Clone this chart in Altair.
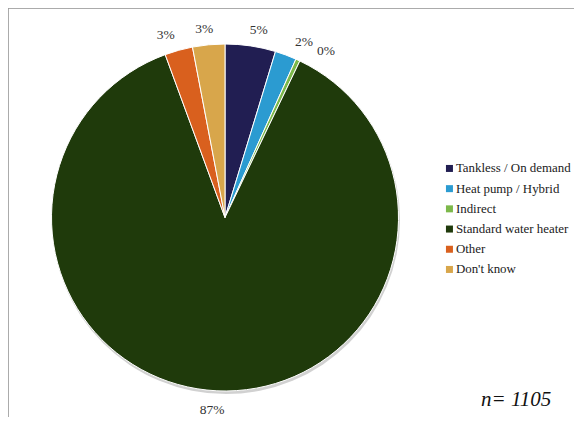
import altair as alt
import pandas as pd
import math

categories = ["Tankless / On demand", "Heat pump / Hybrid", "Indirect",
              "Standard water heater", "Other", "Don't know"]
values = [4.7, 2.0, 0.4, 87.3, 2.6, 3.0]
labels = ["5%", "2%", "0%", "87%", "3%", "3%"]
colors = ["#211e52", "#2b9bd1", "#7cb84a", "#1f3a0b", "#d9601e", "#d8a64b"]
n_text = "n= 1105"

df = pd.DataFrame({"cat": categories, "val": values, "lab": labels,
                   "ord": list(range(len(categories)))})

W, H = 566, 409
CX, CY, R = 217, 209.5, 173.5
FONT = "Liberation Serif"
FRAME = "#9a9a9a"

base = alt.Chart(df).encode(
    theta=alt.Theta("val:Q", stack=True),
    order=alt.Order("ord:Q"),
)

one = pd.DataFrame({"s": [1]})
frame_top = alt.Chart(one).mark_rule(color=FRAME, strokeWidth=1.5).encode(
    x=alt.value(0), x2=alt.value(W), y=alt.value(0))
frame_left = alt.Chart(one).mark_rule(color=FRAME, strokeWidth=1.5).encode(
    x=alt.value(0), y=alt.value(0), y2=alt.value(H))

shadow = alt.Chart(one).mark_arc(
    radius=R + 0.5, theta=0, theta2=2 * math.pi, color="#bdbdbd", opacity=0.7
).encode(x=alt.value(CX + 1), y=alt.value(CY + 2.5))

pie = base.mark_arc(radius=R, stroke="white", strokeWidth=1).encode(
    x=alt.value(CX), y=alt.value(CY),
    color=alt.Color("cat:N",
                    scale=alt.Scale(domain=categories, range=colors),
                    sort=categories,
                    legend=alt.Legend(title=None, orient="none",
                                      legendX=435, legendY=154,
                                      symbolType="square", symbolSize=49,
                                      symbolStrokeWidth=0,
                                      labelFont=FONT, labelFontSize=12.9,
                                      labelColor="#222222",
                                      rowPadding=6.2, labelOffset=0)),
)

# per-label nudges (dx, dy) to mimic the original's outside-end label placement
nudges = {
    "Tankless / On demand": (6, -1.5),
    "Heat pump / Hybrid": (13, 0.5),
    "Indirect": (22, 4),
    "Standard water heater": (-4, 5),
    "Other": (-9, -1),
    "Don't know": (-3, -1),
}

text_layers = []
for cat in categories:
    dx, dy = nudges[cat]
    text_layers.append(
        base.mark_text(radius=188, font=FONT, fontSize=13.5, color="#333333",
                       dx=dx, dy=dy).encode(
            x=alt.value(CX), y=alt.value(CY),
            text=alt.condition(alt.datum.cat == cat, "lab:N", alt.value("")),
        )
    )

note = alt.Chart(pd.DataFrame({"t": [n_text]})).mark_text(
    font=FONT, fontSize=21, fontStyle="italic", align="left", baseline="alphabetic",
    color="#111111"
).encode(x=alt.value(473), y=alt.value(398), text="t:N")

chart = alt.layer(frame_top, frame_left, shadow, pie, *text_layers, note).properties(
    width=W, height=H, padding=0,
    autosize=alt.AutoSizeParams(type="none"),
).configure_view(strokeWidth=0).configure(background="white")

chart.save("out.html", embed_options={"renderer": "svg", "actions": False})
